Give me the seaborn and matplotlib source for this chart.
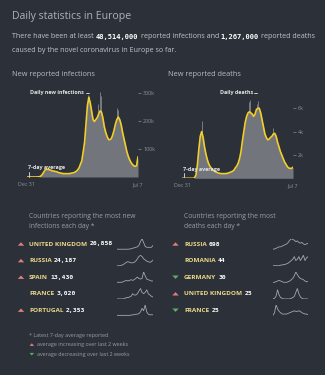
import numpy as np
import matplotlib
matplotlib.use("Agg")
import matplotlib.pyplot as plt
from matplotlib.patches import Polygon
import seaborn as sns

# ---------------------------------------------------------------- data
# weekly points of the 7-day average, Dec 31 2019 .. Jul 7 2021
week = list(range(80))
infections_avg = [0, 0, 0, 0, 0, 0, 0, 0, 0.5, 1,
                  4, 10, 18, 26, 28, 27, 26, 24, 22, 21,
                  20, 19, 17, 15, 14, 13, 12, 12, 12, 12,
                  12, 13, 14, 15, 17, 20, 25, 32, 45, 58,
                  90, 125, 190, 255, 284, 265, 235, 205, 198, 205,
                  212, 225, 236, 232, 211, 180, 160, 145, 134, 133,
                  137, 150, 168, 190, 206, 214, 205, 187, 160, 137,
                  115, 92, 75, 62, 52, 45, 40, 38, 40, 72]          # thousands
deaths_avg = [0, 0, 0, 0, 0, 0, 0, 0, 0, 0.05,
              0.3, 1.2, 2.5, 3.6, 4.0, 3.5, 2.7, 2.1, 1.6, 1.25,
              1.0, 0.85, 0.72, 0.62, 0.55, 0.5, 0.45, 0.42, 0.4, 0.4,
              0.4, 0.4, 0.42, 0.45, 0.5, 0.55, 0.6, 0.7, 0.9, 1.05,
              1.3, 1.7, 2.3, 3.2, 4.0, 4.8, 5.3, 5.6, 5.7, 5.6,
              5.5, 5.3, 5.5, 5.9, 6.0, 6.0, 5.6, 5.0, 4.4, 3.8,
              3.5, 3.3, 3.35, 3.5, 3.6, 3.8, 3.85, 3.6, 3.1, 2.7,
              2.3, 2.0, 1.7, 1.4, 1.2, 1.0, 0.88, 0.85, 0.85, 0.95]  # thousands

# single-day reports standing out above the average
inf_spike_week = [43.6, 44.4, 50.4, 51.8, 52.6, 64.2, 65.0]
inf_spike_val = [293, 290, 262, 302, 290, 246, 240]
dth_spike_week = [14.0, 47.4, 48.4, 53.4, 54.4, 65.0]
dth_spike_val = [4.9, 6.5, 6.7, 6.4, 6.6, 4.3]

inf_ticks = [100, 200, 300]
inf_tick_labels = ["100k", "200k", "300k"]
dth_ticks = [2, 4, 6]
dth_tick_labels = ["2k", "4k", "6k"]
x_tick_labels = ["Dec 31", "Jul 7"]

total_infections = 48514000
total_deaths = 1267000

inf_countries = ["UNITED KINGDOM", "RUSSIA", "SPAIN", "FRANCE", "PORTUGAL"]
inf_values = [26858, 24187, 13430, 3020, 2353]
inf_trend = ["up", "up", "up", None, "up"]
inf_spark = [
    [1, 1, 1, 1, 1, 1, 1, 1, 1.2, 1.5, 2, 2.5, 3, 3.5, 5, 9, 12, 8, 4, 3, 3, 3, 3, 5],
    [1, 1, 1, 1.5, 2, 3, 4, 4.5, 4, 3.5, 3.5, 4, 5, 7, 9, 10, 9, 7, 6, 5, 4.5, 4, 4.5, 6],
    [1, 1, 1, 1, 1.5, 2, 2.5, 2, 2.5, 3, 2.5, 3, 4, 5, 4, 3.5, 4, 9, 6, 3.5, 3, 2.5, 2, 2],
    [1, 1, 1, 1, 1, 1.5, 2, 2, 2.5, 3, 5, 4, 4, 5, 7, 9, 6, 5, 6, 8, 5, 4, 3, 2.5],
    [1, 1, 1, 1, 1, 1, 1, 1, 1, 1.2, 1.5, 1.5, 2, 2, 2.5, 4, 7, 5, 10, 4, 2, 1.5, 1.5, 1.5],
]

dth_countries = ["RUSSIA", "ROMANIA", "GERMANY", "UNITED KINGDOM", "FRANCE"]
dth_values = [698, 44, 30, 25, 25]
dth_trend = ["up", None, "down", "up", "down"]
dth_spark = [
    [1, 1, 1.5, 2, 2.5, 2.5, 3, 3.5, 4, 4.5, 5.5, 7, 8, 7.5, 7, 6, 6.5, 5.5, 5, 5.5, 4.5, 4, 4.5, 5],
    [1, 1, 1, 1, 1, 1.5, 1.5, 2, 2, 2.5, 3, 4, 5, 6, 8, 5, 6, 8, 5, 7, 9, 5, 7, 8],
    [1, 1, 1.5, 2, 2.5, 2, 1.5, 1, 1, 1, 1.5, 2, 3, 4, 6, 9, 7, 5, 4, 3.5, 3, 2, 1.5, 1.5],
    [1, 1.5, 3, 8, 4, 2, 1.5, 1, 1, 1, 1, 1, 1.5, 2, 3, 6, 9, 5, 2.5, 1.5, 1, 1, 1, 1],
    [1, 3, 9, 6, 4, 3, 2, 2, 2, 2, 2.5, 3, 3.5, 4, 4.5, 4, 4, 4.5, 4, 3, 2.5, 2, 2, 1.5],
]

# ---------------------------------------------------------------- style
W, H = 325, 375
BG = "#2c3139"
AREA = "#72757c"
SPIKE = "#8c8f95"
YELLOW = "#f2cf2a"
TXT = "#c3c6cb"
DIM = "#9a9da3"
NAME = "#ecd98a"
RED = "#e27d7d"
GREEN = "#5fae68"
SPARK = "#a4a7ad"

sns.set_theme(style="dark")
plt.rcParams["font.family"] = ["Open Sans", "DejaVu Sans"]
plt.rcParams["axes.facecolor"] = "none"

fig = plt.figure(figsize=(W / 100, H / 100), dpi=100, facecolor=BG)
renderer = fig.canvas.get_renderer()

ov = fig.add_axes([0, 0, 1, 1])
ov.set_xlim(0, W)
ov.set_ylim(H, 0)
ov.axis("off")
ov.set_zorder(10)


def box(x, y, w, h):
    return fig.add_axes([x / W, 1 - (y + h) / H, w / W, h / H])


def seq(x, y, parts, size, gap=None):
    """Write text pieces one after another on a baseline row."""
    if gap is None:
        gap = size * 0.38
    for txt, color, weight, family in parts:
        t = ov.text(x, y, txt, color=color, fontsize=size, fontweight=weight,
                    family=family, va="center", ha="left")
        x += t.get_window_extent(renderer=renderer).width + gap
    return x


def triangle(x, y, kind, w=6.4, h=3.4):
    if kind == "up":
        pts = [(x - w / 2, y + h / 2), (x + w / 2, y + h / 2), (x, y - h / 2)]
        c = RED
    else:
        pts = [(x - w / 2, y - h / 2), (x + w / 2, y - h / 2), (x, y + h / 2)]
        c = GREEN
    ov.add_patch(Polygon(pts, closed=True, color=c, lw=0))


SANS = ["Open Sans", "DejaVu Sans"]
MONO = ["DejaVu Sans Mono"]

# ---------------------------------------------------------------- header
ov.text(12.5, 16, "Daily statistics in Europe", color="#aeb1b6", fontsize=7.6,
        va="center", ha="left", family=SANS)
seq(12.5, 37, [("There have been at least", TXT, "normal", SANS),
               (f"{total_infections:,}", "white", "bold", MONO),
               ("reported infections and", TXT, "normal", SANS),
               (f"{total_deaths:,}", "white", "bold", MONO),
               ("reported deaths", TXT, "normal", SANS)], 5.1)
ov.text(12.5, 51, "caused by the novel coronavirus in Europe so far.", color=TXT,
        fontsize=5.1, va="center", ha="left", family=SANS)

ov.text(12.5, 75, "New reported infections", color="#b9bcc1", fontsize=5.3,
        va="center", ha="left", family=SANS)
ov.text(167.5, 75, "New reported deaths", color="#b9bcc1", fontsize=5.3,
        va="center", ha="left", family=SANS)


# ---------------------------------------------------------------- charts
def chart(rect, avg, sp_w, sp_v, ymax, ticks, tick_labels):
    ax = box(*rect)
    days = np.array(week) * 7
    ax.vlines(np.array(sp_w) * 7, 0, sp_v, color=SPIKE, lw=0.7, alpha=0.8, zorder=1)
    ax.fill_between(days, avg, color=AREA, lw=0, zorder=2)
    sns.lineplot(x=days, y=avg, ax=ax, color=YELLOW, lw=1.2, zorder=3)
    ax.set_xlim(0, days[-1])
    ax.set_ylim(0, ymax)
    ax.yaxis.tick_right()
    ax.set_yticks(ticks)
    ax.set_yticklabels(tick_labels)
    ax.set_xticks([0, days[-1]])
    ax.set_xticklabels(x_tick_labels)
    ax.tick_params(axis="y", right=True, left=False, labelright=True,
                   labelleft=False, length=2.2, width=0.5, pad=1.5,
                   colors="#8d9096", labelsize=3.9, direction="out")
    ax.tick_params(axis="x", bottom=False, length=0, pad=3.5,
                   colors="#8d9096", labelsize=3.9)
    for s in ax.spines.values():
        s.set_visible(False)
    ax.grid(False)
    ax.set_xlabel("")
    ax.set_ylabel("")
    return ax


chart((27, 85, 111, 92), infections_avg, inf_spike_week, inf_spike_val,
      92 / 0.28, inf_ticks, inf_tick_labels)
chart((182, 85, 111, 93.3), deaths_avg, dth_spike_week, dth_spike_val,
      93.3 / 11.67, dth_ticks, dth_tick_labels)

# annotations inside the charts
lab = "#e4e4e4"
ov.text(30, 92.5, "Daily new infections", color=lab, fontsize=3.9,
        fontweight="bold", va="center", ha="left", family=SANS)
ov.plot([85.5, 88.5], [92.8, 92.8], color=lab, lw=0.6)
ov.text(28, 168, "7-day average", color=lab, fontsize=3.9,
        fontweight="bold", va="center", ha="left", family=SANS)
ov.plot([28.6, 28.6], [171.5, 176.5], color=lab, lw=0.6)

ov.text(220, 92.5, "Daily deaths", color=lab, fontsize=3.9,
        fontweight="bold", va="center", ha="left", family=SANS)
ov.plot([253.5, 256.5], [92.8, 92.8], color=lab, lw=0.6)
ov.text(183, 169, "7-day average", color=lab, fontsize=3.9,
        fontweight="bold", va="center", ha="left", family=SANS)
ov.plot([184.2, 184.2], [172.5, 177], color=lab, lw=0.6)

# ---------------------------------------------------------------- tables
ov.text(29, 216, "Countries reporting the most new", color=DIM, fontsize=4.9,
        va="center", ha="left", family=SANS)
ov.text(29, 226.5, "infections each day *", color=DIM, fontsize=4.9,
        va="center", ha="left", family=SANS)
ov.text(184, 216, "Countries reporting the most", color=DIM, fontsize=4.9,
        va="center", ha="left", family=SANS)
ov.text(184, 226.5, "deaths each day *", color=DIM, fontsize=4.9,
        va="center", ha="left", family=SANS)

row_y = [244, 260.6, 277.2, 293.8, 310.2]


def spark(x, y, w, h, series):
    ax = box(x, y, w, h)
    sns.lineplot(x=list(range(len(series))), y=series, ax=ax, color=SPARK, lw=0.6)
    ax.set_xlim(0, len(series) - 1)
    ax.set_ylim(min(series) - 0.3, max(series) * 1.02)
    ax.axis("off")


for i, y in enumerate(row_y):
    if inf_trend[i]:
        triangle(21, y, inf_trend[i])
    seq(29, y, [(inf_countries[i], NAME, "bold", SANS),
                (f"{inf_values[i]:,}", "white", "bold", MONO)], 4.6, gap=2.2)
    spark(117, y - 5.5, 36, 11, inf_spark[i])

    if dth_trend[i]:
        triangle(175.5, y, dth_trend[i])
    seq(184, y, [(dth_countries[i], NAME, "bold", SANS),
                 (f"{dth_values[i]:,}", "white", "bold", MONO)], 4.6, gap=2.2)
    spark(273, y - 5.5, 35, 11, dth_spark[i])

# ---------------------------------------------------------------- notes
ov.text(29, 335, "* Latest 7-day average reported", color=DIM, fontsize=3.85,
        va="center", ha="left", family=SANS)
triangle(31.8, 344.6, "up", w=4.6, h=2.6)
ov.text(37.2, 344.6, "average increasing over last 2 weeks", color=DIM,
        fontsize=3.9, va="center", ha="left", family=SANS)
triangle(31.8, 354.2, "down", w=4.6, h=2.6)
ov.text(37.2, 354.2, "average decreasing over last 2 weeks", color=DIM,
        fontsize=3.9, va="center", ha="left", family=SANS)

fig.savefig("out.png", dpi=100, facecolor=BG)
